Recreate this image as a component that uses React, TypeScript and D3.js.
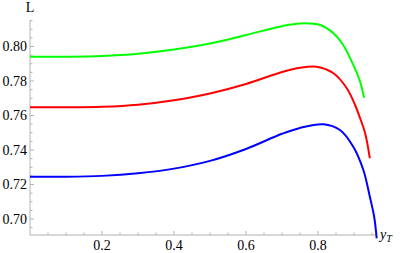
import React from 'react'
import * as d3 from 'd3'

// readings of the three curves, L against y_T
const greenT = [0, 0.1, 0.2, 0.3, 0.4, 0.5, 0.6, 0.7, 0.75, 0.806, 0.843, 0.87, 0.898, 0.917, 0.928]
const greenL = [0.7941, 0.7941, 0.7945, 0.7958, 0.7982, 0.8017, 0.8067, 0.8118, 0.8134, 0.8125, 0.8077, 0.8009, 0.7893, 0.7796, 0.7703]

const redT = [0, 0.1, 0.2, 0.3, 0.4, 0.5, 0.6, 0.7, 0.75, 0.796, 0.843, 0.88, 0.903, 0.917, 0.931, 0.944]
const redL = [0.7648, 0.7648, 0.7651, 0.7663, 0.7689, 0.7728, 0.7783, 0.7852, 0.7877, 0.7883, 0.7845, 0.7758, 0.7661, 0.7584, 0.7497, 0.7352]

const blueT = [0, 0.1, 0.2, 0.3, 0.4, 0.5, 0.6, 0.7, 0.75, 0.815, 0.861, 0.898, 0.926, 0.944, 0.956, 0.963]
const blueL = [0.7245, 0.7245, 0.7250, 0.7265, 0.7292, 0.7337, 0.7406, 0.7494, 0.7528, 0.7549, 0.7516, 0.7419, 0.7284, 0.7129, 0.7013, 0.6888]

const xMajor = [0.2, 0.4, 0.6, 0.8]
const yMajor = [0.7, 0.72, 0.74, 0.76, 0.78, 0.8]

const series = [
  { t: greenT, l: greenL, color: '#00ff00' },
  { t: redT, l: redL, color: '#ff0000' },
  { t: blueT, l: blueL, color: '#0000ff' },
]

const W = 402
const H = 253

export default function App() {
  const x = d3.scaleLinear().domain([0, 1]).range([30, 390])
  const y = d3.scaleLinear().domain([0.7, 0.8]).range([219, 46.5])

  const xEnd = 0.961
  const yBottom = 0.6907
  const yTop = 0.8154

  const xMinor = d3.range(0.05, xEnd, 0.05).filter(v => !xMajor.some(m => Math.abs(m - v) < 1e-6))
  const yMinor = d3.range(0.69, yTop, 0.005).filter(v => v > yBottom && !yMajor.some(m => Math.abs(m - v) < 1e-6))

  const line = d3.line<[number, number]>()
    .x(d => x(d[0]))
    .y(d => y(d[1]))
    .curve(d3.curveCatmullRom.alpha(0.5))

  const axisColor = '#b3b3b3'
  const font = 'Liberation Serif, DejaVu Serif, Times New Roman, serif'

  return (
    <svg width={W} height={H} style={{ position: 'absolute', left: 0, top: 0, background: '#fff' }}>
      {/* axes */}
      <line x1={x(0)} x2={x(xEnd)} y1={y(yBottom)} y2={y(yBottom)} stroke={axisColor} strokeWidth={1} />
      <line x1={x(0)} x2={x(0)} y1={y(yBottom)} y2={y(yTop)} stroke={axisColor} strokeWidth={1} />

      {xMajor.map(v => (
        <line key={'xM' + v} x1={x(v)} x2={x(v)} y1={y(yBottom)} y2={y(yBottom) - 4} stroke={axisColor} />
      ))}
      {xMinor.map(v => (
        <line key={'xm' + v} x1={x(v)} x2={x(v)} y1={y(yBottom)} y2={y(yBottom) - 2.5} stroke={axisColor} />
      ))}
      {yMajor.map(v => (
        <line key={'yM' + v} x1={x(0)} x2={x(0) + 4} y1={y(v)} y2={y(v)} stroke={axisColor} />
      ))}
      {yMinor.map(v => (
        <line key={'ym' + v} x1={x(0)} x2={x(0) + 2.5} y1={y(v)} y2={y(v)} stroke={axisColor} />
      ))}

      <g fontFamily={font} fontSize={14} fill="#000">
        {xMajor.map(v => (
          <text key={'xt' + v} x={x(v)} y={250} textAnchor="middle">
            {v.toFixed(1)}
          </text>
        ))}
        {yMajor.map(v => (
          <text key={'yt' + v} x={27} y={y(v) + 4.7} textAnchor="end">
            {v.toFixed(2)}
          </text>
        ))}
        <text x={30} y={12} textAnchor="middle">L</text>
        <text x={380} y={239} fontStyle="italic">
          y<tspan fontSize={10} dy={3}>T</tspan>
        </text>
      </g>

      {series.map((s, i) => (
        <path
          key={i}
          d={line(s.t.map((t, j) => [t, s.l[j]] as [number, number])) || ''}
          fill="none"
          stroke={s.color}
          strokeWidth={2}
        />
      ))}
    </svg>
  )
}
